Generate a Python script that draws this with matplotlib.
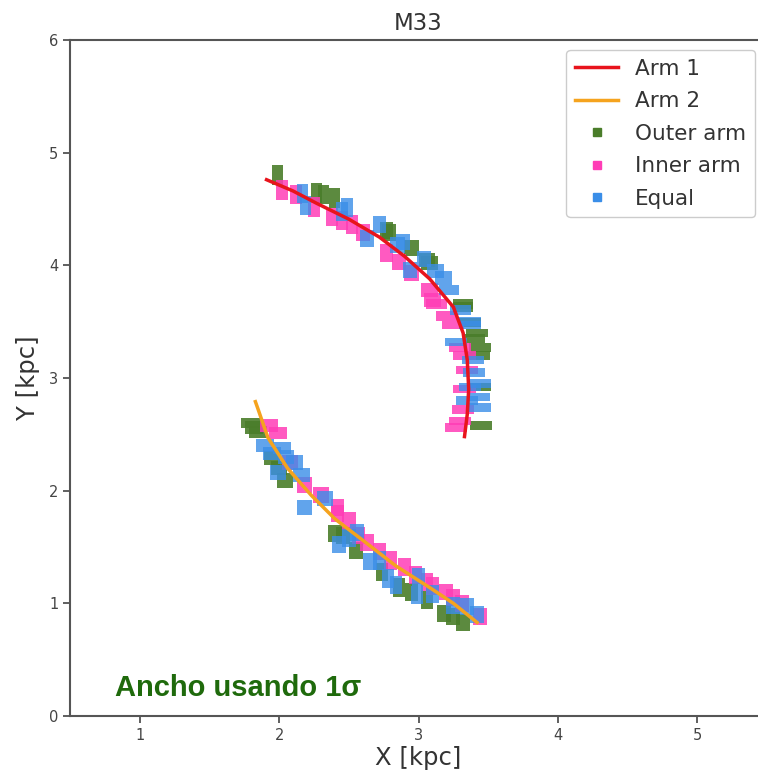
import matplotlib
matplotlib.use("Agg")
import numpy as np
import matplotlib.pyplot as plt
from matplotlib.path import Path
from matplotlib.lines import Line2D

# spiral arm fits (kpc)
arm1_x = [1.91, 2.10, 2.27, 2.50, 2.72, 2.90, 3.08, 3.25, 3.32, 3.35, 3.36, 3.35, 3.33]
arm1_y = [4.76, 4.66, 4.55, 4.41, 4.25, 4.08, 3.88, 3.63, 3.40, 3.16, 2.90, 2.68, 2.48]
arm2_x = [1.83, 1.85, 1.92, 2.06, 2.23, 2.40, 2.60, 2.84, 3.08, 3.25, 3.42]
arm2_y = [2.79, 2.72, 2.47, 2.20, 1.96, 1.75, 1.56, 1.33, 1.14, 1.00, 0.83]

# width classification points
outer_x = [1.99, 2.27, 2.32, 2.40, 2.77, 2.79, 2.95, 3.06, 3.08, 3.32, 3.37, 3.32, 3.40, 3.42,
           3.44, 3.43, 3.44, 3.45,
           1.80, 1.82, 1.85, 1.95, 2.00, 2.04, 2.40, 2.46, 2.55, 2.74, 2.86, 2.95, 3.06, 3.18,
           3.25, 3.32]
outer_y = [4.80, 4.64, 4.63, 4.60, 4.31, 4.29, 4.15, 4.05, 4.02, 3.63, 3.49, 3.66, 3.35, 3.40,
           3.27, 3.20, 2.92, 2.58,
           2.60, 2.56, 2.52, 2.29, 2.20, 2.09, 1.62, 1.60, 1.47, 1.28, 1.14, 1.10, 1.03, 0.91,
           0.88, 0.83]
inner_x = [2.02, 2.12, 2.25, 2.38, 2.45, 2.52, 2.60, 2.77, 2.86, 2.95, 3.08, 3.13, 3.10, 3.20,
           3.25, 3.30, 3.33, 3.35, 3.33, 3.32, 3.30, 3.27,
           1.93, 1.99, 2.08, 2.18, 2.30, 2.42, 2.42, 2.50, 2.57, 2.63, 2.72, 2.80, 2.90, 2.98,
           3.06, 3.10, 3.20, 3.25, 3.31, 3.44]
inner_y = [4.67, 4.63, 4.52, 4.43, 4.40, 4.36, 4.29, 4.11, 4.03, 3.93, 3.78, 3.66, 3.69, 3.55,
           3.47, 3.27, 3.20, 3.07, 2.90, 2.72, 2.62, 2.56,
           2.58, 2.51, 2.25, 2.05, 1.96, 1.85, 1.80, 1.73, 1.60, 1.54, 1.46, 1.38, 1.32, 1.25,
           1.19, 1.15, 1.10, 1.05, 1.00, 0.88]
equal_x = [2.17, 2.19, 2.45, 2.49, 2.63, 2.72, 2.85, 2.89, 3.04, 2.94, 3.12, 3.18, 3.22, 3.30,
           3.37, 3.37, 3.27, 3.39, 3.40, 3.43, 3.44, 3.44, 3.37, 3.35,
           1.90, 1.95, 2.02, 2.05, 1.99, 2.11, 2.16, 2.18, 2.33, 2.43, 2.50, 2.56, 2.72, 2.65,
           2.78, 2.84, 3.00, 2.99, 3.10, 3.25, 3.35, 3.42]
equal_y = [4.64, 4.53, 4.48, 4.51, 4.24, 4.36, 4.18, 4.21, 4.06, 3.96, 3.95, 3.89, 3.78, 3.60,
           3.50, 3.47, 3.32, 3.16, 3.05, 2.83, 2.95, 2.74, 2.92, 2.80,
           2.40, 2.33, 2.38, 2.30, 2.16, 2.25, 2.14, 1.85, 1.93, 1.52, 1.58, 1.63, 1.38, 1.37,
           1.22, 1.16, 1.23, 1.07, 1.08, 0.98, 0.97, 0.90]

green = '#4a7d2a'
pink = '#ff3db6'
blue = '#3a8ee8'

fig = plt.figure(figsize=(7.58, 7.76), dpi=100)
ax = fig.add_axes([70/758, 60/776, 697/758, 676/776])
ax.set_xlim(0.5, 5.5)
ax.set_ylim(0, 6)

ax.plot(arm1_x, arm1_y, color='#e8141c', lw=2.5, zorder=3)
ax.plot(arm2_x, arm2_y, color='#f5a31e', lw=2.5, zorder=3)

# blocky width marks, stretched across the nearest arm (axis aligned)
arms_disp = [ax.transData.transform(np.column_stack([arm1_x, arm1_y])),
             ax.transData.transform(np.column_stack([arm2_x, arm2_y]))]


def block_paths(xs, ys):
    pts = ax.transData.transform(np.column_stack([xs, ys]))
    paths = []
    for p in pts:
        best = None
        for arm in arms_disp:
            d = np.hypot(*(arm - p).T)
            i = int(np.argmin(d))
            if best is None or d[i] < best[0]:
                j = min(i, len(arm) - 2)
                best = (d[i], arm[j + 1] - arm[j])
        t = best[1] / np.hypot(*best[1])
        w = 0.45 + 0.75 * t[1] ** 2   # wide when arm runs vertically
        h = 0.45 + 0.75 * t[0] ** 2   # tall when arm runs horizontally
        paths.append(Path([(-w/2, -h/2), (w/2, -h/2), (w/2, h/2), (-w/2, h/2), (-w/2, -h/2)],
                          [Path.MOVETO, Path.LINETO, Path.LINETO, Path.LINETO, Path.CLOSEPOLY]))
    return paths


for xs, ys, c, a in [(outer_x, outer_y, green, 0.9), (inner_x, inner_y, pink, 0.85),
                     (equal_x, equal_y, blue, 0.8)]:
    sc = ax.scatter(xs, ys, marker='s', s=180, color=c, alpha=a, lw=0, zorder=2)
    sc.set_paths(block_paths(xs, ys))

ax.set_xticks([1, 2, 3, 4, 5])
ax.set_yticks([0, 1, 2, 3, 4, 5, 6])
ax.tick_params(colors='#444444', labelsize=10.5, length=5, width=1.2)
for sp in ax.spines.values():
    sp.set_color('#555555')
    sp.set_linewidth(1.5)

ax.set_title('M33', fontsize=16.5, color='#333333', pad=7)
ax.set_xlabel('X [kpc]', fontsize=17.5, color='#333333', labelpad=2)
ax.set_ylabel('Y [kpc]', fontsize=17.5, color='#333333', labelpad=6)

handles = [Line2D([], [], color='#e8141c', lw=2.5),
           Line2D([], [], color='#f5a31e', lw=2.5),
           Line2D([], [], ls='none', marker='s', ms=6, color=green),
           Line2D([], [], ls='none', marker='s', ms=6, color=pink),
           Line2D([], [], ls='none', marker='s', ms=6, color=blue)]
labels = ['Arm 1', 'Arm 2', 'Outer arm', 'Inner arm', 'Equal']
leg = ax.legend(handles, labels, loc='upper right', bbox_to_anchor=(755/758, 726/776),
                bbox_transform=fig.transFigure, borderaxespad=0, fontsize=15.5,
                handlelength=2.0, labelspacing=0.58, framealpha=1, edgecolor='#cccccc',
                fancybox=True)
for t in leg.get_texts():
    t.set_color('#333333')

fig.text(115/758, 80/776, 'Ancho usando 1σ', family=['Liberation Sans Narrow', 'Liberation Sans', 'DejaVu Sans'],
         fontsize=21, fontweight='bold', color='#1f6a0c')

fig.savefig('out.png', dpi=100)
